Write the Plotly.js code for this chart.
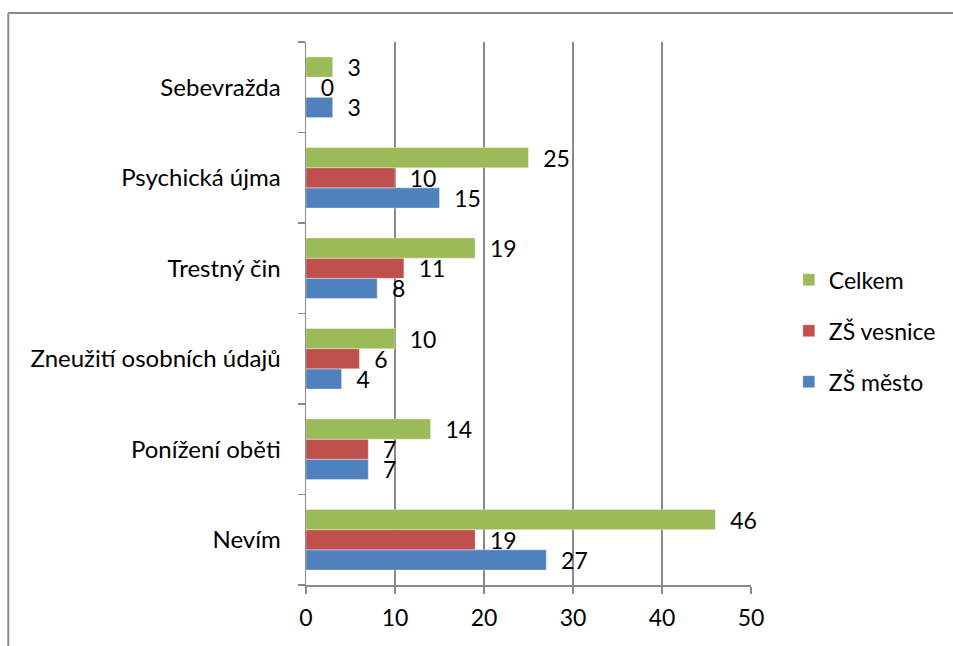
<!DOCTYPE html>
<html><head><meta charset="utf-8">
<script src="https://cdn.plot.ly/plotly-3.0.1.min.js"></script>
<style>body{margin:0;background:#fff}#c{width:953px;height:646px}</style>
</head><body><div id="c"></div>
<script>
const categories = ["Nevím","Ponížení oběti","Zneužití osobních údajů","Trestný čin","Psychická újma","Sebevražda"];
const zsMesto   = [27, 7, 4, 8, 15, 3];
const zsVesnice = [19, 7, 6, 11, 10, 0];
const celkem    = [46, 14, 10, 19, 25, 3];
const xTicks = [0, 10, 20, 30, 40, 50];

const FONT = "Lato, 'Noto Sans', sans-serif";
function mk(name, vals, color, rank){
  return {type:'bar', orientation:'h', name:name, y:categories, x:vals,
    marker:{color:color, line:{color:'rgba(255,255,255,0.35)', width:1}},
    text: vals.map(v=>'\u00a0\u00a0'+v), textposition:'outside', constraintext:'none',
    cliponaxis:false, textfont:{size:23, color:'#000', family:FONT},
    legendgroup:name, legendrank:rank, hoverinfo:'x+name'};
}
const data = [
  mk('ZŠ město', zsMesto, '#4F81BD', 3),
  mk('ZŠ vesnice', zsVesnice, '#C0504D', 2),
  mk('Celkem', celkem, '#9BBB59', 1)
];
const gray = '#8a8a8a';
const layout = {
  width:953, height:646, margin:{l:306, r:200, t:42, b:61},
  paper_bgcolor:'#fff', plot_bgcolor:'#fff',
  font:{family:FONT, size:23, color:'#000'},
  barmode:'group', bargap:0.33, bargroupgap:0,
  xaxis:{range:[0,50], tickvals:xTicks, ticktext:xTicks.map(String), showgrid:true, gridcolor:gray, gridwidth:1.5,
    zeroline:false, showline:true, linecolor:gray, linewidth:1.5, ticks:'outside', ticklen:7, tickcolor:gray, tickwidth:1.5,
    tickfont:{size:23}, ticklabelstandoff:5, fixedrange:true},
  yaxis:{type:'category', showgrid:false, showline:true, linecolor:gray, linewidth:1.5, ticks:'outside', tickson:'boundaries',
    ticklen:7, tickcolor:gray, tickwidth:1.5, tickfont:{size:24}, ticklabelstandoff:19, fixedrange:true},
  showlegend:true,
  legend:{traceorder:'grouped', x:1.085, xanchor:'left', y:0.468, yanchor:'middle', tracegroupgap:18,
    font:{size:23}, bgcolor:'rgba(0,0,0,0)'},
  shapes:[
    {type:'line', xref:'paper', yref:'paper', x0:-0.669, x1:-0.669, y0:1.0534, y1:-0.3, line:{color:gray, width:2}},
    {type:'line', xref:'paper', yref:'paper', x0:-0.669, x1:1.6, y0:1.0534, y1:1.0534, line:{color:gray, width:2}}
  ]
};
Plotly.newPlot('c', data, layout, {displayModeBar:false, staticPlot:true});
</script></body></html>
